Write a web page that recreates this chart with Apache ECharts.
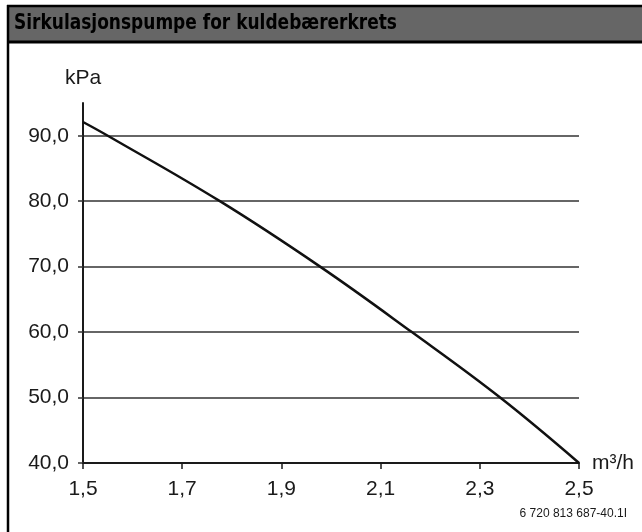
<!DOCTYPE html>
<html>
<head>
<meta charset="utf-8">
<script src="https://cdn.jsdelivr.net/npm/echarts@6/dist/echarts.min.js"></script>
<style>
html,body{margin:0;padding:0;background:#fff;}
#chart{width:642px;height:532px;}
</style>
</head>
<body>
<div id="chart"></div>
<script>
const title = 'Sirkulasjonspumpe for kuldebærerkrets';
const footnote = '6 720 813 687-40.1I';
const xName = 'm³/h';
const yName = 'kPa';
const flow = [1.5, 1.55, 1.776, 1.978, 2.163, 2.341, 2.5];
const pressure = [92.1, 90, 80, 70, 60, 50, 40];
const xTicks = [1.5, 1.7, 1.9, 2.1, 2.3, 2.5];
const yTicks = [40, 50, 60, 70, 80, 90];

const fmt = (v, d) => v.toFixed(d).replace('.', ',');
const chart = echarts.init(document.getElementById('chart'), null, {renderer: 'canvas'});
const labelFont = {fontFamily: 'Liberation Sans, Arial, sans-serif', fontSize: 21, color: '#1a1a1a'};

const titleFont = 'bold 21px "DejaVu Sans Condensed", sans-serif';
const ctx = document.createElement('canvas').getContext('2d');
ctx.font = titleFont;
const titleScale = 383 / ctx.measureText(title).width;

chart.setOption({
  animation: false,
  backgroundColor: '#fff',
  graphic: [
    {type: 'rect', shape: {x: 8, y: 6, width: 634, height: 36}, style: {fill: '#666666'}, z: 0},
    {type: 'line', shape: {x1: 7, y1: 6, x2: 642, y2: 6}, style: {stroke: '#000', lineWidth: 2.5}},
    {type: 'line', shape: {x1: 7, y1: 42, x2: 642, y2: 42}, style: {stroke: '#000', lineWidth: 3}},
    {type: 'line', shape: {x1: 8, y1: 5, x2: 8, y2: 532}, style: {stroke: '#000', lineWidth: 2.5}},
    {type: 'text', x: 14, y: 24, scaleX: titleScale, style: {text: title, fill: '#000', font: titleFont, verticalAlign: 'middle'}},
    {type: 'text', right: 15, top: 508, style: {text: footnote, fill: '#1a1a1a', font: '12px "Liberation Sans", Arial, sans-serif'}}
  ],
  grid: {left: 83, right: 63, top: 103, bottom: 69, containLabel: false},
  xAxis: {
    type: 'value', min: 1.5, max: 2.5,
    name: xName, nameLocation: 'end', nameGap: 13,
    nameTextStyle: Object.assign({}, labelFont, {align: 'left', verticalAlign: 'middle'}),
    axisLine: {show: true, onZero: false, lineStyle: {color: '#1a1a1a', width: 2}},
    axisTick: {show: true, customValues: xTicks, length: 6, inside: false, lineStyle: {color: '#1a1a1a', width: 1.5}},
    axisLabel: Object.assign({}, labelFont, {customValues: xTicks, margin: 16, formatter: v => fmt(v, 1)}),
    splitLine: {show: false}
  },
  yAxis: {
    type: 'value', min: 40, max: 95,
    name: yName, nameLocation: 'end', nameGap: 14,
    nameTextStyle: Object.assign({}, labelFont, {align: 'center'}),
    axisLine: {show: true, onZero: false, lineStyle: {color: '#1a1a1a', width: 2}},
    axisTick: {show: true, customValues: yTicks, length: 5, lineStyle: {color: '#333', width: 1.5}},
    axisLabel: Object.assign({}, labelFont, {customValues: yTicks, margin: 14, formatter: v => fmt(v, 1)}),
    splitLine: {show: true, lineStyle: {color: '#333', width: 1.5}}
  },
  series: [{
    type: 'line',
    data: flow.map((x, i) => [x, pressure[i]]),
    smooth: 0.4,
    showSymbol: false,
    lineStyle: {color: '#111', width: 2.5},
    z: 5
  }]
});
</script>
</body>
</html>
